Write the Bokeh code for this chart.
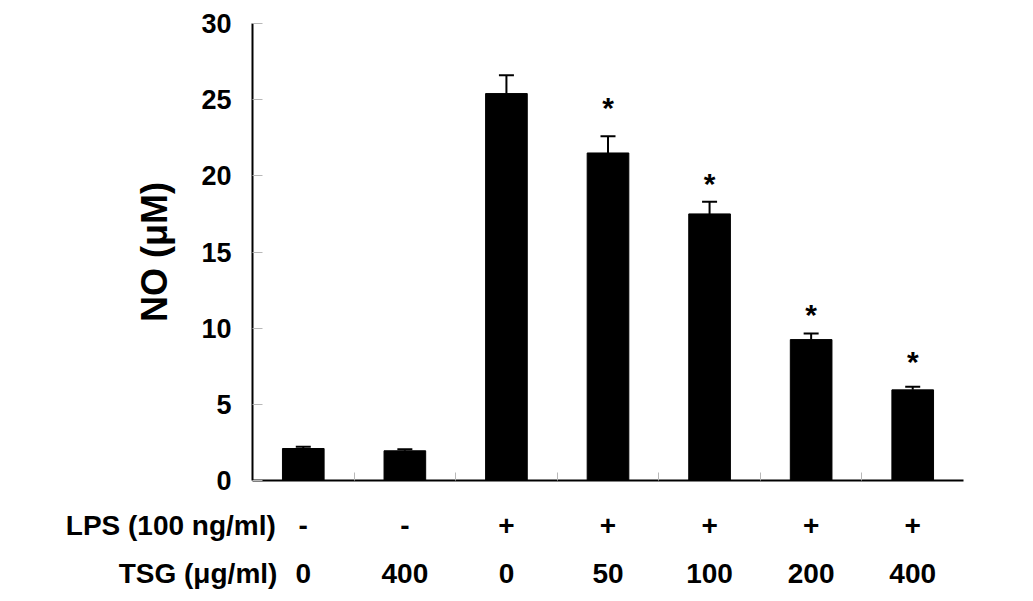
from bokeh.plotting import figure
from bokeh.models import (ColumnDataSource, Range1d, LinearAxis, FixedTicker,
                          Whisker, TeeHead)
from bokeh.core.properties import value
from bokeh.embed import file_html
from bokeh.resources import INLINE

# ---- data ----
lps_labels = ["-", "-", "+", "+", "+", "+", "+"]
tsg_labels = ["0", "400", "0", "50", "100", "200", "400"]
no_values = [2.1, 1.95, 25.4, 21.5, 17.5, 9.25, 5.95]
no_errors = [0.12, 0.1, 1.2, 1.1, 0.8, 0.4, 0.2]
star_groups = [4, 5, 6, 7]
star_y = [24.6, 19.6, 11.0, 7.95]
y_ticks = [0, 5, 10, 15, 20, 25, 30]
lps_header = "LPS (100 ng/ml)"
tsg_header = "TSG (\u03bcg/ml)"
y_title = "NO (\u03bcM)"

FONT = "Liberation Sans"
NBSP = "\u00a0"
positions = list(range(1, len(no_values) + 1))
upper = [v + e for v, e in zip(no_values, no_errors)]
x_start = positions[0] - 0.5

src = ColumnDataSource(dict(x=positions, top=no_values, upper=upper))

p = figure(width=1025, height=593, output_backend="svg", toolbar_location=None,
           x_range=Range1d(x_start, len(positions) + 0.5), y_range=Range1d(0, 30),
           min_border_left=252, min_border_right=62, min_border_top=23,
           min_border_bottom=113, outline_line_color=None)
p.xgrid.visible = False
p.ygrid.visible = False
p.background_fill_color = "white"

p.vbar(x="x", top="top", width=0.41, source=src, fill_color="black",
       line_color="black")

p.add_layout(Whisker(base="x", lower="top", upper="upper", source=src,
                     dimension="height", line_width=2, line_color="black",
                     upper_head=TeeHead(size=15, line_width=2, line_color="black"),
                     lower_head=None))

p.text(x=star_groups, y=star_y, text=["*"] * len(star_groups),
       text_font=value(FONT), text_font_style="bold", text_font_size="30px",
       text_align="center", text_baseline="middle", y_offset=2,
       text_color="black")

# y axis
ya = p.yaxis[0]
ya.ticker = FixedTicker(ticks=y_ticks)
ya.axis_line_width = 2
ya.axis_line_color = "black"
ya.major_tick_in = 10
ya.major_tick_out = 0
ya.major_tick_line_color = "#b8b8b8"
ya.minor_tick_line_color = None
ya.major_label_standoff = 21
ya.major_label_text_font = FONT
ya.major_label_text_font_style = "bold"
ya.major_label_text_font_size = "27px"
ya.major_label_text_color = "black"
ya.axis_label = y_title
ya.axis_label_text_font = FONT
ya.axis_label_text_font_style = "bold"
ya.axis_label_text_font_size = "36px"
ya.axis_label_text_color = "black"
ya.axis_label_standoff = 23


def row_labels(header, labels, pad):
    d = {x: t for x, t in zip(positions, labels)}
    # row header sits at the left end of the row, right-aligned via padding
    d[x_start] = header + NBSP * pad
    return d


# x axis: line + group boundary ticks + LPS row
xa = p.xaxis[0]
xa.ticker = FixedTicker(ticks=[x_start] + positions,
                        minor_ticks=[x + 0.5 for x in positions[:-1]])
xa.axis_line_width = 2
xa.axis_line_color = "black"
xa.major_tick_in = 0
xa.major_tick_out = 0
xa.minor_tick_in = 8
xa.minor_tick_out = 0
xa.minor_tick_line_color = "#b8b8b8"
xa.major_label_overrides = row_labels(lps_header, lps_labels, 21)
xa.major_label_standoff = 29
xa.major_label_text_font = FONT
xa.major_label_text_font_style = "bold"
xa.major_label_text_font_size = "28px"
xa.major_label_text_color = "black"

# TSG row
xb = LinearAxis(ticker=FixedTicker(ticks=[x_start] + positions),
                major_label_overrides=row_labels(tsg_header, tsg_labels, 14))
xb.axis_line_color = None
xb.major_tick_line_color = None
xb.minor_tick_line_color = None
xb.major_label_standoff = 8
xb.major_label_text_font = FONT
xb.major_label_text_font_style = "bold"
xb.major_label_text_font_size = "28px"
xb.major_label_text_color = "black"
p.add_layout(xb, "below")

open("out.html", "w").write(file_html(p, INLINE))
